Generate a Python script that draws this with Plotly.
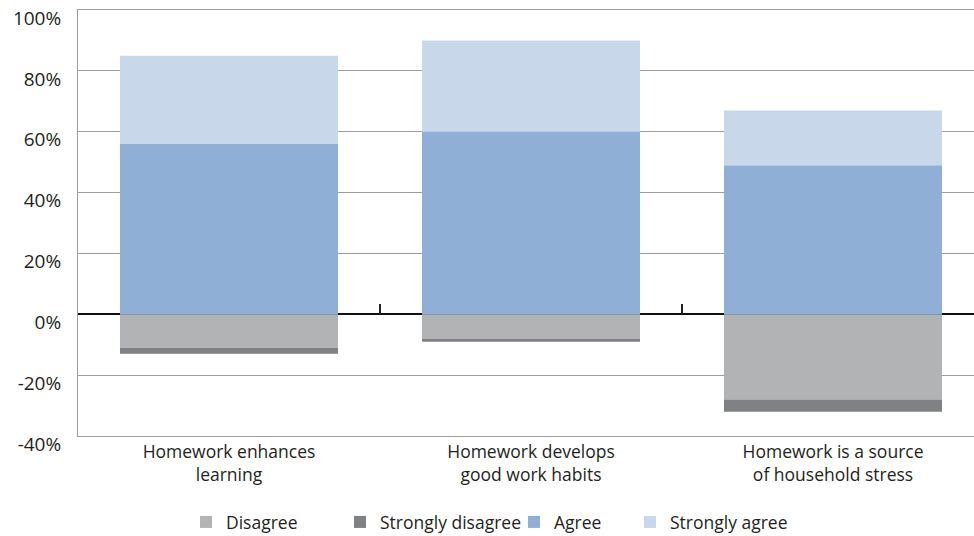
import plotly.graph_objects as go

# Survey statements (category labels, broken over two lines)
categories = [
    "Homework enhances<br>learning",
    "Homework develops<br>good work habits",
    "Homework is a source<br>of household stress",
]

# Share of respondents, in percent (negative = disagreement side)
disagree = [-11, -8, -28]
strongly_disagree = [-2, -1, -4]
agree = [56, 60, 49]
strongly_agree = [29, 30, 18]

y_ticks = [-40, -20, 0, 20, 40, 60, 80, 100]
y_tick_labels = ["-40%", "-20%", "0%", "20%", "40%", "60%", "80%", "100%"]

series = [
    ("Disagree", disagree, "#b2b3b5"),
    ("Strongly disagree", strongly_disagree, "#808184"),
    ("Agree", agree, "#8fafd6"),
    ("Strongly agree", strongly_agree, "#c8d7ea"),
]

# left edge (container fraction) of each legend entry
legend_x = [186 / 974, 340 / 974, 514 / 974, 630 / 974]
legend_ids = ["legend", "legend2", "legend3", "legend4"]

FONT = "Open Sans"
TEXT = "#231f20"
GRID = "#9d9d9d"

fig = go.Figure()
x_pos = list(range(len(categories)))
for (name, vals, color), lid in zip(series, legend_ids):
    fig.add_trace(go.Bar(
        x=x_pos, y=vals, name=name, legend=lid,
        marker=dict(color=color, line=dict(width=0)),
        hoverinfo="skip",
    ))

# invisible helper trace so the boundary-tick axis is drawn
fig.add_trace(go.Scatter(x=[0], y=[0], xaxis="x2", mode="markers",
                         marker=dict(opacity=0), showlegend=False,
                         hoverinfo="skip"))

x_range = [-0.5, -0.5 + 896 / 302]

legend_style = dict(
    orientation="h", xref="container", yref="container",
    xanchor="left", y=0.026, yanchor="middle",
    font=dict(size=17.5, family=FONT, color=TEXT),
    bgcolor="rgba(0,0,0,0)", borderwidth=0,
)
legends = {lid: dict(legend_style, x=lx) for lid, lx in zip(legend_ids, legend_x)}

fig.update_layout(
    width=974, height=536,
    margin=dict(l=78, r=0, t=10, b=100),
    paper_bgcolor="white", plot_bgcolor="white",
    barmode="relative", bargap=0.278,
    font=dict(family=FONT, color=TEXT, size=17),
    showlegend=True,
    **legends,
    xaxis=dict(
        range=x_range, tickmode="array", tickvals=x_pos, ticktext=categories,
        ticks="", showgrid=False, zeroline=False,
        showline=True, linecolor=GRID, linewidth=1, mirror=True,
        tickfont=dict(size=17.5, family=FONT, color=TEXT),
        fixedrange=True,
    ),
    xaxis2=dict(
        range=x_range, overlaying="x", anchor="free",
        position=(0 - y_ticks[0]) / (y_ticks[-1] - y_ticks[0]),
        tickmode="array", tickvals=[0.5, 1.5], showticklabels=False,
        ticks="inside", ticklen=10, tickwidth=1.5, tickcolor="#222222",
        showgrid=False, zeroline=False, showline=False,
    ),
    yaxis=dict(
        range=[y_ticks[0], y_ticks[-1]], tickmode="array", tickvals=y_ticks,
        ticktext=y_tick_labels, ticks="", showgrid=True, gridcolor=GRID,
        gridwidth=1,
        zeroline=True, zerolinecolor="#111111", zerolinewidth=1.6,
        showline=True, linecolor=GRID, linewidth=1,
        tickfont=dict(size=19, family=FONT, color=TEXT),
        ticklabelshift=8, ticklabelstandoff=12,
    ),
)

fig.write_html("out.html")
